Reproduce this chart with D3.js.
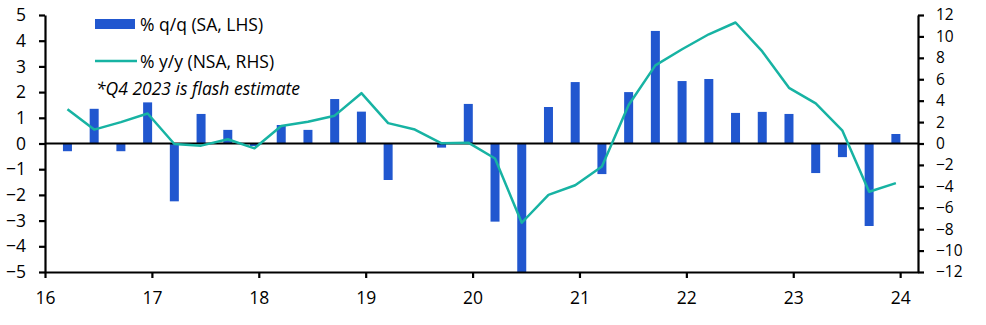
<!DOCTYPE html>
<html>
<head>
<meta charset="utf-8">
<script src="https://cdn.jsdelivr.net/npm/d3@7"></script>
<style>
  body { margin: 0; background: #fff; }
  text { font-family: "Open Sans", "Noto Sans", sans-serif; fill: #000; }
</style>
</head>
<body>
<div id="chart"></div>
<script>
// quarters Q1 2016 .. Q4 2023
const quarters = [
    "2016Q1", "2016Q2", "2016Q3", "2016Q4",
    "2017Q1", "2017Q2", "2017Q3", "2017Q4",
    "2018Q1", "2018Q2", "2018Q3", "2018Q4",
    "2019Q1", "2019Q2", "2019Q3", "2019Q4",
    "2020Q1", "2020Q2", "2020Q3", "2020Q4",
    "2021Q1", "2021Q2", "2021Q3", "2021Q4",
    "2022Q1", "2022Q2", "2022Q3", "2022Q4",
    "2023Q1", "2023Q2", "2023Q3", "2023Q4"
];
// % q/q (SA, LHS)
const qoq = [
    -0.3, 1.35, -0.3, 1.6,
    -2.25, 1.15, 0.53, -0.1,
    0.72, 0.53, 1.73, 1.24,
    -1.42, 0.0, -0.16, 1.54,
    -3.04, -5.0, 1.42, 2.39,
    -1.19, 2.0, 4.38, 2.43,
    2.51, 1.19, 1.23, 1.15,
    -1.15, -0.53, -3.21, 0.37
];
// % y/y (NSA, RHS)
const yoy = [
    3.2, 1.3, 2.0, 2.8,
    -0.05, -0.2, 0.4, -0.45,
    1.63, 2.03, 2.6, 4.7,
    1.9, 1.3, 0.02, 0.08,
    -1.4, -7.4, -4.8, -3.9,
    -2.15, 3.6, 7.3, 8.8,
    10.2, 11.3, 8.6, 5.2,
    3.75, 1.2, -4.5, -3.7
];
const yearTicks = [16, 17, 18, 19, 20, 21, 22, 23, 24];
const leftTicks = [-5, -4, -3, -2, -1, 0, 1, 2, 3, 4, 5];
const rightTicks = [-12, -10, -8, -6, -4, -2, 0, 2, 4, 6, 8, 10, 12];

const W = 986, H = 325;
const blue = "#2157cf", teal = "#17b3a3";
const fontSize = "17.5px";

const svg = d3.select("#chart").append("svg")
    .attr("width", W)
    .attr("height", H);

// decimal year position of each quarter (short years)
const qPos = q => +q.slice(2, 4) + (+q.slice(5) * 0.25) - 0.04;

const x = d3.scaleLinear().domain([16, 24.167]).range([45, 918]);
const yL = d3.scaleLinear().domain([-5, 5]).range([272, 15]);
const yR = d3.scaleLinear().domain([-12, 12]).range([272, 15]);

const barW = 9;

svg.selectAll("rect.bar")
    .data(quarters)
    .enter().append("rect")
    .attr("class", "bar")
    .attr("x", (d, i) => x(qPos(d)) - barW / 2)
    .attr("y", (d, i) => yL(Math.max(0, qoq[i])))
    .attr("width", barW)
    .attr("height", (d, i) => Math.abs(yL(qoq[i]) - yL(0)))
    .style("fill", blue);

// zero line
svg.append("line")
    .attr("x1", x.range()[0]).attr("x2", x.range()[1])
    .attr("y1", yL(0)).attr("y2", yL(0))
    .style("stroke", "#000")
    .style("stroke-width", 2.2);

const line = d3.line()
    .x((d, i) => x(qPos(quarters[i])))
    .y(d => yR(d));

svg.append("path")
    .datum(yoy)
    .attr("d", line)
    .style("fill", "none")
    .style("stroke", teal)
    .style("stroke-width", 2.5)
    .style("stroke-linejoin", "round");

// axes
const styleAxis = (g, size) => {
    g.select(".domain").style("stroke", "#000").style("stroke-width", 2.2);
    g.selectAll(".tick line").style("stroke", "#000").style("stroke-width", 2.2);
    g.selectAll(".tick text").style("font-size", size).style("fill", "#000");
};

svg.append("g")
    .attr("transform", `translate(${x.range()[0]},0)`)
    .call(d3.axisLeft(yL).tickValues(leftTicks).tickSize(6).tickSizeOuter(0).tickPadding(13))
    .call(styleAxis, fontSize)
    .attr("font-family", null);

// right labels are packed tighter, so a bit smaller
svg.append("g")
    .attr("transform", `translate(${x.range()[1]},0)`)
    .call(d3.axisRight(yR).tickValues(rightTicks).tickSize(6).tickSizeOuter(0).tickPadding(12))
    .call(styleAxis, "15.5px")
    .attr("font-family", null);

svg.append("g")
    .attr("transform", `translate(0,${yL(-5)})`)
    .call(d3.axisBottom(x).tickValues(yearTicks).tickSize(6).tickSizeOuter(0).tickPadding(14))
    .call(styleAxis, fontSize)
    .attr("font-family", null);

// legend
const legend = svg.append("g");
legend.append("rect")
    .attr("x", 95).attr("y", 19).attr("width", 40).attr("height", 10)
    .style("fill", blue);
legend.append("text")
    .attr("x", 140).attr("y", 25).attr("dy", "0.35em")
    .style("font-size", fontSize)
    .text("% q/q (SA, LHS)");
legend.append("line")
    .attr("x1", 95).attr("x2", 137).attr("y1", 61).attr("y2", 61)
    .style("stroke", teal).style("stroke-width", 2.5);
legend.append("text")
    .attr("x", 140).attr("y", 62).attr("dy", "0.35em")
    .style("font-size", fontSize)
    .text("% y/y (NSA, RHS)");
legend.append("text")
    .attr("x", 96).attr("y", 89).attr("dy", "0.35em")
    .style("font-size", fontSize)
    .style("font-style", "italic")
    .text("*Q4 2023 is flash estimate");
</script>
</body>
</html>
